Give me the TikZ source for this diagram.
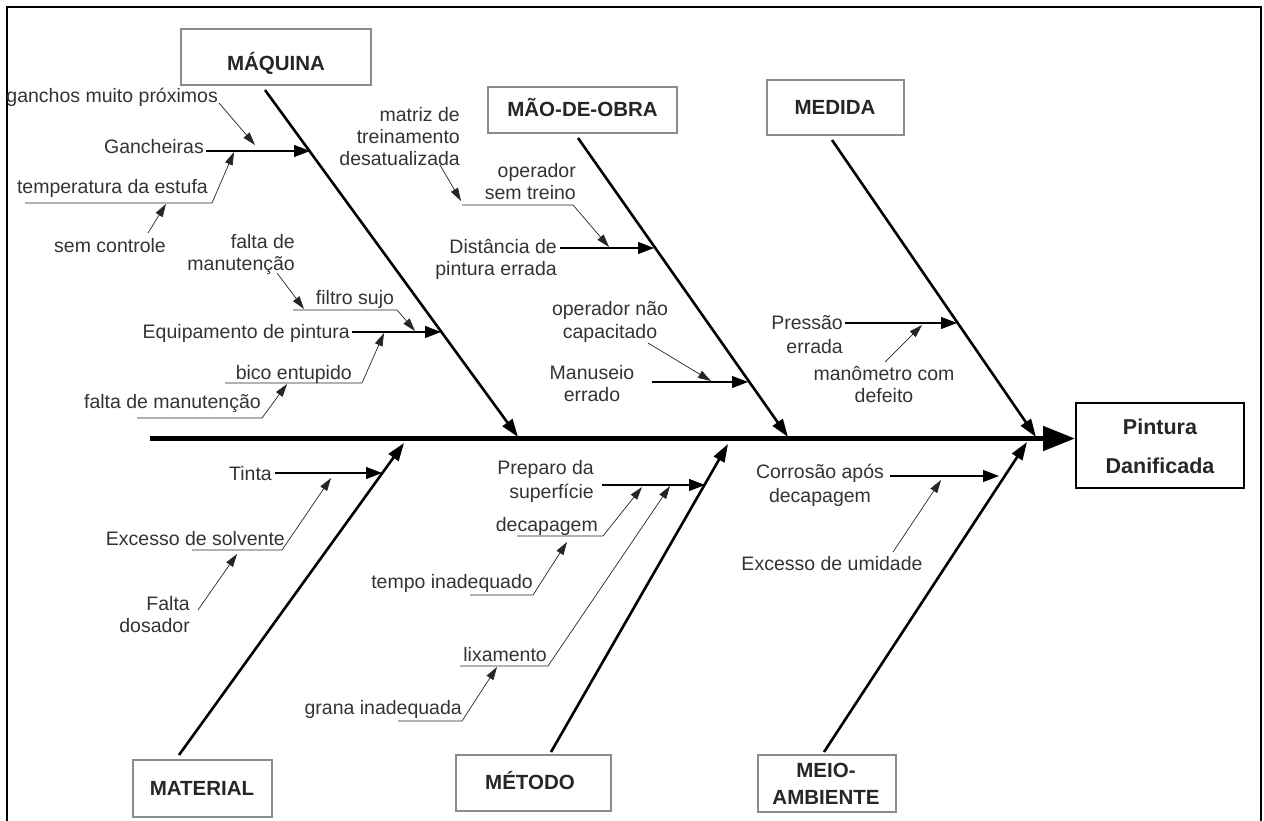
\documentclass[tikz,border=0pt]{standalone}
\usepackage{fontspec}
\setmainfont{Liberation Sans}
\usetikzlibrary{arrows.meta}
% multi-line label whose baseline is that of its first line
\newcommand{\mlines}[2]{\begin{tabular}[t]{@{}#1@{}}#2\end{tabular}}

\begin{document}
\begin{tikzpicture}[x=1pt,y=-1pt,
  lbl/.style={font=\fontsize{19.5}{22}\selectfont, text=black!80, inner sep=0pt},
  cattext/.style={font=\fontsize{20.5}{27}\selectfont\bfseries, text=black!85, inner sep=0pt},
  efftext/.style={font=\fontsize{21.5}{39}\selectfont\bfseries, text=black!85, inner sep=0pt},
  catbox/.style={draw=black!45, line width=1.1pt, inner sep=0pt},
  effbox/.style={draw=black, line width=2pt, inner sep=0pt, minimum width=168pt, minimum height=85pt},
  spine/.style={line width=5pt, -{Triangle[length=32pt,width=24pt]}},
  bone/.style={line width=2.6pt, -{Triangle[length=18pt,width=12pt]}},
  cause/.style={line width=1.1pt, -{Triangle[length=16pt,width=12pt]}},
  minor/.style={line width=0.7pt, black!85, -{Triangle[length=13pt,width=8pt]}},
  uline/.style={line width=1.1pt, black!85},
]
\useasboundingbox (0,0) rectangle (1264,821);

% outer frame
\draw[line width=1.5pt] (7,821) -- (7,7) -- (1261,7) -- (1261,821);

% ---------- effect and category boxes ----------
\node[effbox] (eff) at (1160,445.5) {};
\node[efftext, anchor=base] (effT) at (1160,434.5) {\mlines{c}{Pintura\\Danificada}};

\node[catbox, minimum width=190pt, minimum height=56pt] (maq) at (276,57) {};
\node[cattext, anchor=base] (maqT) at (276,70.5) {MÁQUINA};
\node[catbox, minimum width=189pt, minimum height=46pt] (mao) at (582.5,110) {};
\node[cattext, anchor=base] (maoT) at (582.5,117) {MÃO-DE-OBRA};
\node[catbox, minimum width=137pt, minimum height=55pt] (med) at (835.5,107.5) {};
\node[cattext, anchor=base] (medT) at (835,115) {MEDIDA};
\node[catbox, minimum width=139pt, minimum height=57pt] (mat) at (202.5,788.5) {};
\node[cattext, anchor=base] (matT) at (202,795.5) {MATERIAL};
\node[catbox, minimum width=155pt, minimum height=56pt] (met) at (533.5,783) {};
\node[cattext, anchor=base] (metT) at (530,789.5) {MÉTODO};
\node[catbox, minimum width=138pt, minimum height=57pt] (mei) at (827,783.5) {};
\node[cattext, anchor=base] (meiT) at (826,777) {\mlines{c}{MEIO-\\AMBIENTE}};

% ---------- spine ----------
\coordinate (spineS) at (150,438.5);
\draw[spine] (spineS) -- (spineS -| eff.west);

% ---------- category bones ----------
\coordinate (maqA) at (265,90);   \coordinate (maqB) at (518,437);
\coordinate (maoA) at (578,138);  \coordinate (maoB) at (788,437);
\coordinate (medA) at (832,140);  \coordinate (medB) at (1036,437);
\coordinate (matA) at (179,755);  \coordinate (matB) at (404,443);
\coordinate (metA) at (551,752);  \coordinate (metB) at (728,444);
\coordinate (meiA) at (824,752);  \coordinate (meiB) at (1027,442);
\draw[bone] (maqA) -- (maqB);
\draw[bone] (maoA) -- (maoB);
\draw[bone] (medA) -- (medB);
\draw[bone] (matA) -- (matB);
\draw[bone] (metA) -- (metB);
\draw[bone] (meiA) -- (meiB);

% ---------- MÁQUINA ----------
\node[lbl, anchor=base east] (gan) at (204,154) {Gancheiras};
\node[lbl, anchor=base east] (gmp) at (218,103) {ganchos muito próximos};
\node[lbl, anchor=base east] (tes) at (208,194) {temperatura da estufa};
\node[lbl, anchor=base] (sct) at (110,253) {sem controle};
\node[lbl, anchor=base east] (fm1) at (295,248) {\mlines{r}{falta de\\manutenção}};
\node[lbl, anchor=base] (fsj) at (355,305) {filtro sujo};
\node[lbl, anchor=base east] (eqp) at (350,338) {Equipamento de pintura};
\node[lbl, anchor=base east] (bic) at (352,379) {bico entupido};
\node[lbl, anchor=base east] (fm2) at (261,408) {falta de manutenção};

\coordinate (ganA) at (206,151);  \coordinate (ganB) at (310,151);
\draw[cause] (ganA) -- (ganB);
\coordinate (gmpA) at (219,103);  \coordinate (gmpB) at (255,145);
\draw[minor] (gmpA) -- (gmpB);
\coordinate (tesA) at (25,203);   \coordinate (tesC) at (212,203);  \coordinate (tesB) at (234,152);
\draw[minor] (tesA) -- (tesC) -- (tesB);
\coordinate (sctA) at (148,233);  \coordinate (sctB) at (166,204);
\draw[minor] (sctA) -- (sctB);
\coordinate (fm1A) at (277,273);  \coordinate (fm1B) at (304,309);
\draw[minor] (fm1A) -- (fm1B);
\coordinate (fsjA) at (293,310);  \coordinate (fsjC) at (397,310);  \coordinate (fsjB) at (415,331);
\draw[minor] (fsjA) -- (fsjC) -- (fsjB);
\coordinate (eqpA) at (352,332);  \coordinate (eqpB) at (441,332);
\draw[cause] (eqpA) -- (eqpB);
\coordinate (bicA) at (225,383);  \coordinate (bicC) at (362,383);  \coordinate (bicB) at (384,333);
\draw[minor] (bicA) -- (bicC) -- (bicB);
\coordinate (fm2A) at (137,418);  \coordinate (fm2C) at (262,418);  \coordinate (fm2B) at (287,384);
\draw[minor] (fm2A) -- (fm2C) -- (fm2B);

% ---------- MÃO-DE-OBRA ----------
\node[lbl, anchor=base east] (mtz) at (460,122) {\mlines{r}{matriz de\\treinamento\\desatualizada}};
\node[lbl, anchor=base east] (ost) at (576,178) {\mlines{r}{operador\\sem treino}};
\node[lbl, anchor=base east] (dpe) at (557,254) {\mlines{r}{Distância de\\pintura errada}};
\node[lbl, anchor=base] (onc) at (610,316) {\mlines{c}{operador não\\capacitado}};
\node[lbl, anchor=base] (mne) at (592,379) {\mlines{c}{Manuseio\\errado}};

\coordinate (mtzA) at (440,165);  \coordinate (mtzB) at (461,201);
\draw[minor] (mtzA) -- (mtzB);
\coordinate (ostA) at (462,205);  \coordinate (ostC) at (573,205);  \coordinate (ostB) at (609,247);
\draw[minor] (ostA) -- (ostC) -- (ostB);
\coordinate (dpeA) at (560,248);  \coordinate (dpeB) at (654,248);
\draw[cause] (dpeA) -- (dpeB);
\coordinate (oncA) at (648,343);  \coordinate (oncB) at (711,381);
\draw[minor] (oncA) -- (oncB);
\coordinate (mneA) at (652,382);  \coordinate (mneB) at (748,382);
\draw[cause] (mneA) -- (mneB);

% ---------- MEDIDA ----------
\node[lbl, anchor=base east] (per) at (843,329) {\mlines{r}{Pressão\\[2pt]errada}};
\node[lbl, anchor=base] (mcd) at (884,380) {\mlines{c}{manômetro com\\defeito}};

\coordinate (perA) at (845,323);  \coordinate (perB) at (957,323);
\draw[cause] (perA) -- (perB);
\coordinate (mcdA) at (885,362);  \coordinate (mcdB) at (922,325);
\draw[minor] (mcdA) -- (mcdB);

% ---------- MATERIAL ----------
\node[lbl, anchor=base east] (tin) at (272,480) {Tinta};
\node[lbl, anchor=base east] (exs) at (285,545) {Excesso de solvente};
\node[lbl, anchor=base east] (fdo) at (190,610) {\mlines{r}{Falta\\dosador}};

\coordinate (tinA) at (275,473);  \coordinate (tinB) at (382,473);
\draw[cause] (tinA) -- (tinB);
\coordinate (exsA) at (192,550);  \coordinate (exsC) at (282,550);  \coordinate (exsB) at (331,478);
\draw[minor] (exsA) -- (exsC) -- (exsB);
\coordinate (fdoA) at (198,610);  \coordinate (fdoB) at (237,554);
\draw[minor] (fdoA) -- (fdoB);

% ---------- MÉTODO ----------
\node[lbl, anchor=base east] (pds) at (594,474) {\mlines{r}{Preparo da\\[2pt]superfície}};
\node[lbl, anchor=base east] (dec) at (598,531) {decapagem};
\node[lbl, anchor=base east] (tia) at (533,588) {tempo inadequado};
\node[lbl, anchor=base east] (lix) at (547,661) {lixamento};
\node[lbl, anchor=base east] (gin) at (462,714) {grana inadequada};

\coordinate (pdsA) at (602,485);  \coordinate (pdsB) at (705,485);
\draw[cause] (pdsA) -- (pdsB);
\coordinate (decA) at (517,536);  \coordinate (decC) at (603,536);  \coordinate (decB) at (642,487);
\draw[minor] (decA) -- (decC) -- (decB);
\coordinate (tiaA) at (470,595);  \coordinate (tiaC) at (533,595);  \coordinate (tiaB) at (567,542);
\draw[minor] (tiaA) -- (tiaC) -- (tiaB);
\coordinate (lixA) at (460,666);  \coordinate (lixC) at (548,666);  \coordinate (lixB) at (670,486);
\draw[minor] (lixA) -- (lixC) -- (lixB);
\coordinate (ginA) at (398,721);  \coordinate (ginC) at (462,721);  \coordinate (ginB) at (497,667);
\draw[minor] (ginA) -- (ginC) -- (ginB);

% ---------- MEIO-AMBIENTE ----------
\node[lbl, anchor=base] (cad) at (820,478) {\mlines{c}{Corrosão após\\[2pt]decapagem}};
\node[lbl, anchor=base] (exu) at (832,570) {Excesso de umidade};

\coordinate (cadA) at (890,476);  \coordinate (cadB) at (999,476);
\draw[cause] (cadA) -- (cadB);
\coordinate (exuA) at (893,552);  \coordinate (exuB) at (941,480);
\draw[minor] (exuA) -- (exuB);

\end{tikzpicture}
\end{document}
